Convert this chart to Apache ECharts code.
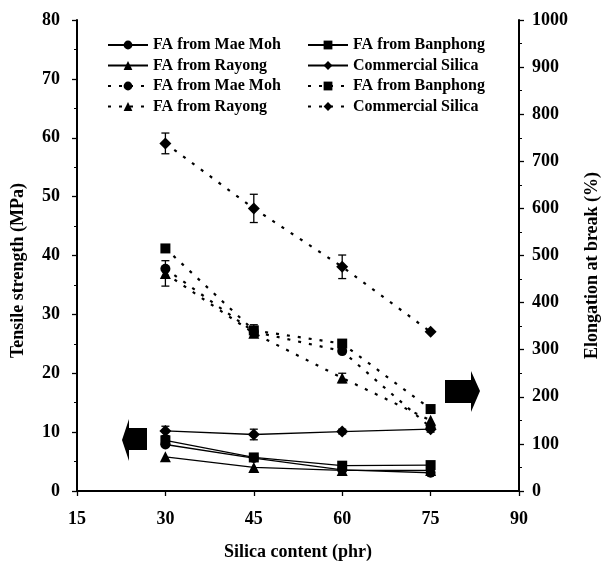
<!DOCTYPE html>
<html><head><meta charset="utf-8">
<script src="https://cdn.jsdelivr.net/npm/echarts@6/dist/echarts.min.js"></script>
<style>html,body{margin:0;padding:0;background:#fff}#c{width:603px;height:562px}</style>
</head><body><div id="c"></div>
<script>
// ---- data ----
const silicaContent = [30, 45, 60, 75];
// Tensile strength (MPa), left axis, solid lines
const tsMaeMoh    = [7.9, 5.6, 3.6, 3.1];
const tsBanphong  = [8.6, 5.7, 4.3, 4.4];
const tsRayong    = [5.8, 4.0, 3.5, 3.5];
const tsSilica    = [10.2, 9.6, 10.1, 10.5];
const tsSilicaErr = [0.8, 0.9, 0.4, 0.5];
// Elongation at break (%), right axis, dashed lines
const ebMaeMoh     = [472, 338, 297, 135];
const ebBanphong   = [515, 341, 313, 174];
const ebRayong     = [462, 335, 240, 150];
const ebSilica     = [738, 600, 476, 338];
const ebSilicaErr  = [22, 30, 25, 0];
const ebRayongErr  = [27, 0, 10, 0];
const ebBanphongErr= [0, 12, 0, 0];
const seriesNames = ['FA from Mae Moh', 'FA from Banphong', 'FA from Rayong', 'Commercial Silica'];

const FONT = '"Liberation Serif","DejaVu Serif",serif';
const pairs = (ys) => silicaContent.map((x, i) => [x, ys[i]]);
const errRows = (ys, es) => silicaContent.map((x, i) => [x, ys[i] - es[i], ys[i] + es[i]]).filter((r, i) => es[i] > 0);

function errRender(params, api) {
  const x = api.value(0), lo = api.value(1), hi = api.value(2);
  const p1 = api.coord([x, hi]), p2 = api.coord([x, lo]);
  const w = 4, st = {stroke: '#000', lineWidth: 1.3};
  return {type: 'group', children: [
    {type: 'line', shape: {x1: p1[0], y1: p1[1], x2: p2[0], y2: p2[1]}, style: st},
    {type: 'line', shape: {x1: p1[0] - w, y1: p1[1], x2: p1[0] + w, y2: p1[1]}, style: st},
    {type: 'line', shape: {x1: p2[0] - w, y1: p2[1], x2: p2[0] + w, y2: p2[1]}, style: st}
  ]};
}

const symbols = ['circle', 'rect', 'triangle', 'diamond'];
const symSize = (s) => s === 'triangle' ? 11 : (s === 'diamond' ? 12 : 10);
const tsData = [tsMaeMoh, tsBanphong, tsRayong, tsSilica];
const ebData = [ebMaeMoh, ebBanphong, ebRayong, ebSilica];
const series = [];
seriesNames.forEach((n, k) => {
  series.push({
    name: n, type: 'line', xAxisIndex: 0, yAxisIndex: 0, data: pairs(tsData[k]),
    symbol: symbols[k], symbolSize: symSize(symbols[k]),
    lineStyle: {color: '#000', width: 1.3}, itemStyle: {color: '#000'}, z: 3
  });
});
seriesNames.forEach((n, k) => {
  series.push({
    name: n + ' ', type: 'line', xAxisIndex: 0, yAxisIndex: 1, data: pairs(ebData[k]),
    symbol: symbols[k], symbolSize: symSize(symbols[k]),
    lineStyle: {color: '#000', width: 2.2, type: [3, 8]}, itemStyle: {color: '#000'}, z: 3
  });
});
series.push({type: 'custom', xAxisIndex: 0, yAxisIndex: 0, renderItem: errRender, encode: {x: 0, y: [1, 2]}, data: errRows(tsSilica, tsSilicaErr), z: 4});
series.push({type: 'custom', xAxisIndex: 0, yAxisIndex: 1, renderItem: errRender, encode: {x: 0, y: [1, 2]}, data: errRows(ebSilica, ebSilicaErr), z: 4});
series.push({type: 'custom', xAxisIndex: 0, yAxisIndex: 1, renderItem: errRender, encode: {x: 0, y: [1, 2]}, data: errRows(ebRayong, ebRayongErr), z: 4});
series.push({type: 'custom', xAxisIndex: 0, yAxisIndex: 1, renderItem: errRender, encode: {x: 0, y: [1, 2]}, data: errRows(ebBanphong, ebBanphongErr), z: 4});

const lblStyle = {color: '#000', fontFamily: FONT, fontWeight: 'bold', fontSize: 18};
const nameStyle = {color: '#000', fontFamily: FONT, fontWeight: 'bold', fontSize: 18};
const lineSt = {color: '#000', width: 2};
const legendText = {color: '#000', fontFamily: FONT, fontWeight: 'bold', fontSize: 16, lineHeight: 16};

const option = {
  animation: false,
  backgroundColor: '#fff',
  grid: {left: 77, right: 84, top: 20, bottom: 71, show: false, containLabel: false, outerBoundsMode: 'none'},
  legend: [
    {left: 107, top: 37, orient: 'vertical', padding: 0, itemWidth: 40, itemHeight: 11, itemGap: 4.5, selectedMode: false,
     data: [seriesNames[0], seriesNames[2], seriesNames[0] + ' ', seriesNames[2] + ' '], textStyle: legendText},
    {left: 307, top: 37, orient: 'vertical', padding: 0, itemWidth: 40, itemHeight: 11, itemGap: 4.5, selectedMode: false,
     data: [seriesNames[1], seriesNames[3], seriesNames[1] + ' ', seriesNames[3] + ' '], textStyle: legendText}
  ],
  xAxis: [
    {type: 'value', position: 'bottom', min: 15, max: 90, interval: 15,
     axisLine: {show: true, lineStyle: lineSt}, axisTick: {show: true, length: 5, lineStyle: {color: '#000', width: 1.3}},
     axisLabel: Object.assign({margin: 19}, lblStyle), splitLine: {show: false},
     name: 'Silica content (phr)', nameLocation: 'middle', nameGap: 52, nameTextStyle: nameStyle},
    {type: 'value', position: 'top', min: 15, max: 90, interval: 15,
     axisLine: {show: true, lineStyle: lineSt}, axisTick: {show: false}, axisLabel: {show: false}, splitLine: {show: false}}
  ],
  yAxis: [
    {type: 'value', position: 'left', min: 0, max: 80, interval: 10,
     axisLine: {show: true, lineStyle: lineSt}, axisTick: {show: true, length: 5, lineStyle: {color: '#000', width: 1.3}},
     minorTick: {show: true, splitNumber: 2, length: 3, lineStyle: {color: '#000'}},
     axisLabel: Object.assign({margin: 17}, lblStyle), splitLine: {show: false},
     name: 'Tensile strength (MPa)', nameLocation: 'middle', nameGap: 50, nameRotate: 90,
     nameTextStyle: Object.assign({padding: [0, 30, 0, 0]}, nameStyle)},
    {type: 'value', position: 'right', min: 0, max: 1000, interval: 100,
     axisLine: {show: true, lineStyle: lineSt}, axisTick: {show: true, length: 5, lineStyle: {color: '#000', width: 1.3}},
     minorTick: {show: true, splitNumber: 2, length: 3, lineStyle: {color: '#000'}},
     axisLabel: Object.assign({margin: 13, formatter: (v) => String(v)}, lblStyle), splitLine: {show: false},
     name: 'Elongation at break (%)', nameLocation: 'middle', nameGap: 64, nameRotate: 90,
     nameTextStyle: Object.assign({padding: [0, 20, 0, 0]}, nameStyle)}
  ],
  graphic: [
    {type: 'polygon', shape: {points: [[122, 440], [129, 419], [129, 428], [147, 428], [147, 450], [129, 450], [129, 461]]}, style: {fill: '#000'}},
    {type: 'polygon', shape: {points: [[445, 380], [471, 380], [471, 371], [480, 391], [471, 412], [471, 403], [445, 403]]}, style: {fill: '#000'}}
  ],
  series: series
};
const chart = echarts.init(document.getElementById('c'), null, {renderer: 'canvas'});
chart.setOption(option);
</script>
</body></html>
